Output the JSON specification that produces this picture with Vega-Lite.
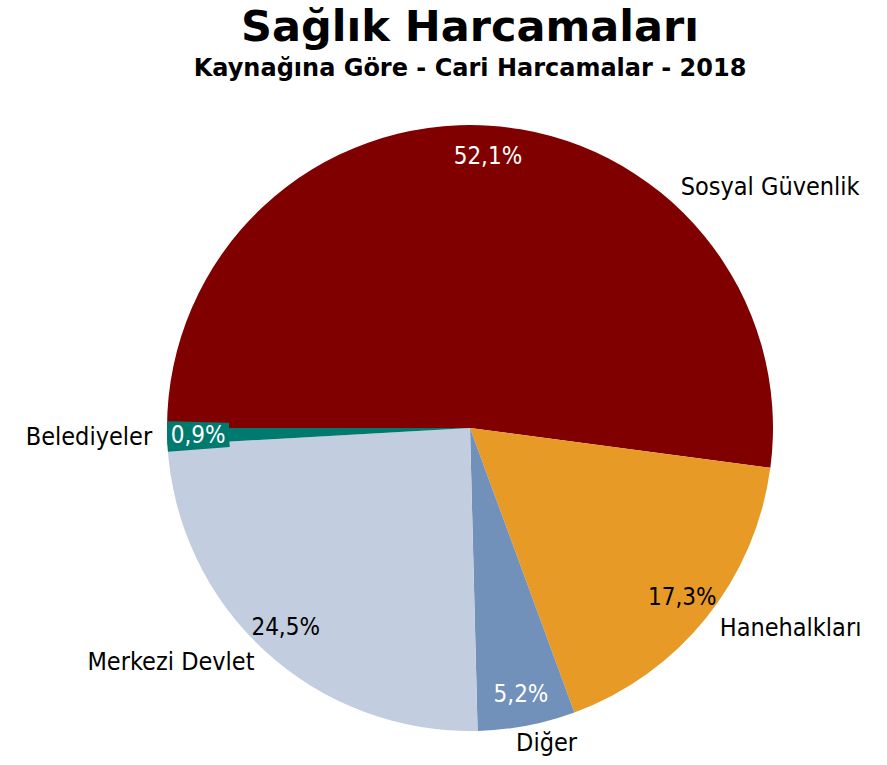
{
  "$schema": "https://vega.github.io/schema/vega-lite/v6.json",
  "autosize": {"type": "none"},
  "width": 834,
  "height": 674,
  "padding": {"left": 53, "top": 91, "right": 0, "bottom": 0},
  "background": "white",
  "config": {"view": {"stroke": null}},
  "title": {
    "text": "Sağlık Harcamaları",
    "subtitle": "Kaynağına Göre - Cari Harcamalar - 2018",
    "anchor": "middle",
    "font": "DejaVu Sans",
    "fontSize": 43,
    "fontWeight": "bold",
    "color": "black",
    "subtitleFont": "DejaVu Sans",
    "subtitleFontSize": 24,
    "subtitleFontWeight": "bold",
    "subtitleColor": "black",
    "subtitlePadding": 7,
    "offset": 10
  },
  "data": {
    "values": [
      {"cat": "Sosyal Güvenlik", "value": 52.1, "label": "52,1%", "o": 1},
      {"cat": "Hanehalkları", "value": 17.3, "label": "17,3%", "o": 2},
      {"cat": "Diğer", "value": 5.2, "label": "5,2%", "o": 3},
      {"cat": "Merkezi Devlet", "value": 24.5, "label": "24,5%", "o": 4},
      {"cat": "Belediyeler", "value": 0.9, "label": "0,9%", "o": 5}
    ]
  },
  "encoding": {
    "theta": {"field": "value", "type": "quantitative", "stack": true, "scale": {"range": [-1.5707963, 4.712389]}},
    "order": {"field": "o", "type": "quantitative"}
  },
  "layer": [
    {
      "mark": {"type": "arc", "outerRadius": 303},
      "encoding": {
        "color": {
          "field": "cat", "type": "nominal", "legend": null,
          "scale": {
            "domain": ["Sosyal Güvenlik", "Hanehalkları", "Diğer", "Merkezi Devlet", "Belediyeler"],
            "range": ["#800000", "#E89A26", "#7190BA", "#C3CDE0", "#007A6E"]
          }
        }
      }
    },
    {
      "mark": {"type": "arc", "outerRadius": 303, "innerRadius": 241, "thetaOffset": -0.022, "color": "#007A6E"},
      "encoding": {
        "opacity": {"condition": {"test": "datum.cat === 'Belediyeler'", "value": 1}, "value": 0}
      }
    },
    {
      "mark": {"type": "arc", "outerRadius": 303, "innerRadius": 241, "thetaOffset": 0.022, "color": "#007A6E"},
      "encoding": {
        "opacity": {"condition": {"test": "datum.cat === 'Belediyeler'", "value": 1}, "value": 0}
      }
    },
    {
      "mark": {"type": "text", "radius": 272, "font": "DejaVu Sans Condensed", "fontSize": 24},
      "encoding": {
        "text": {"field": "label"},
        "color": {"condition": {"test": "datum.cat === 'Hanehalkları' || datum.cat === 'Merkezi Devlet'", "value": "black"}, "value": "white"}
      }
    },
    {
      "mark": {"type": "text", "radius": 320, "align": "left", "baseline": "middle", "thetaOffset": 0.653, "font": "DejaVu Sans Condensed", "fontSize": 25, "color": "black"},
      "encoding": {
        "text": {"condition": {"test": "datum.cat === 'Sosyal Güvenlik'", "field": "cat"}, "value": ""}
      }
    },
    {
      "mark": {"type": "text", "radius": 320, "align": "left", "baseline": "middle", "font": "DejaVu Sans Condensed", "fontSize": 25, "color": "black"},
      "encoding": {
        "text": {"condition": {"test": "datum.cat === 'Hanehalkları'", "field": "cat"}, "value": ""}
      }
    },
    {
      "mark": {"type": "text", "radius": 318, "align": "right", "baseline": "middle", "font": "DejaVu Sans Condensed", "fontSize": 25, "color": "black"},
      "encoding": {
        "text": {"condition": {"test": "datum.cat === 'Merkezi Devlet' || datum.cat === 'Belediyeler'", "field": "cat"}, "value": ""}
      }
    },
    {
      "mark": {"type": "text", "radius": 324, "align": "center", "baseline": "middle", "thetaOffset": -0.05, "font": "DejaVu Sans Condensed", "fontSize": 25, "color": "black"},
      "encoding": {
        "text": {"condition": {"test": "datum.cat === 'Diğer'", "field": "cat"}, "value": ""}
      }
    }
  ]
}
